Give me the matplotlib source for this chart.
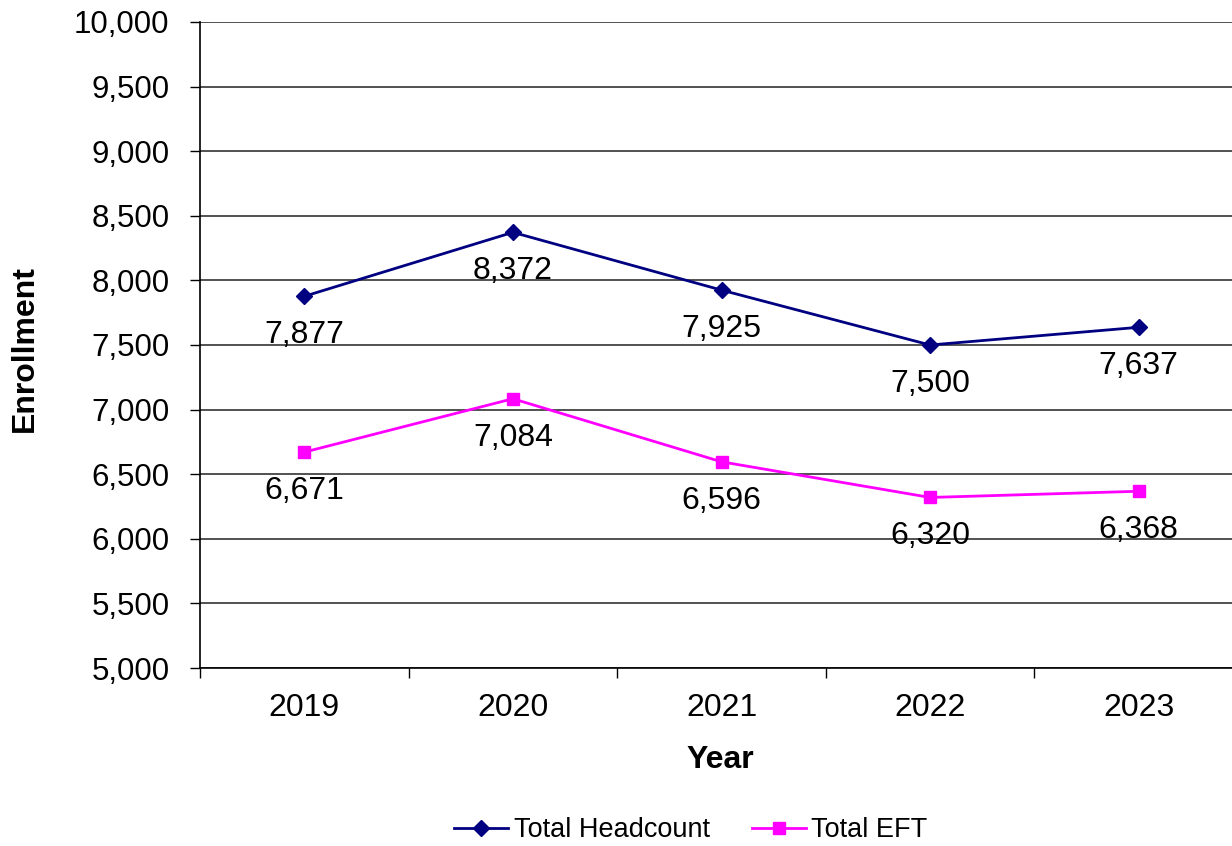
import matplotlib
matplotlib.use("Agg")
import matplotlib.pyplot as plt
from matplotlib.ticker import FuncFormatter, FixedLocator

years = ["2019", "2020", "2021", "2022", "2023"]
headcount = [7877, 8372, 7925, 7500, 7637]
eft = [6671, 7084, 6596, 6320, 6368]
y_ticks = list(range(5000, 10001, 500))

plt.rcParams['font.family'] = ['Liberation Sans', 'DejaVu Sans']

fig = plt.figure(figsize=(12.32, 8.46), dpi=100)
ax = fig.add_axes([200/1232, 1-668/846, 1043/1232, 646/846])

x = list(range(len(years)))
l1, = ax.plot(x, headcount, color='#000080', lw=2, marker='D', markersize=8.5,
              label='Total Headcount', clip_on=False, zorder=3)
l2, = ax.plot(x, eft, color='#FF00FF', lw=2, marker='s', markersize=9,
              label='Total EFT', clip_on=False, zorder=3)

for xi, v in zip(x, headcount):
    ax.annotate(f"{v:,}", (xi, v), xytext=(0, -28), textcoords='offset points',
                ha='center', va='center', fontsize=23)
for xi, v in zip(x, eft):
    ax.annotate(f"{v:,}", (xi, v), xytext=(0, -28), textcoords='offset points',
                ha='center', va='center', fontsize=23)

ax.set_xlim(-0.5, len(years) - 0.5)
ax.set_ylim(5000, 10000)
ax.set_yticks(y_ticks)
ax.yaxis.set_major_formatter(FuncFormatter(lambda v, p: f"{int(v):,}"))
ax.set_xticks(x)
ax.set_xticklabels(years)
ax.xaxis.set_minor_locator(FixedLocator([i - 0.5 for i in range(len(years) + 1)]))
ax.tick_params(axis='x', which='major', length=0, pad=18, labelsize=23)
ax.tick_params(axis='x', which='minor', length=7, width=1, direction='out')
ax.tick_params(axis='y', length=7, width=1, pad=15, labelsize=22.5)

ax.grid(axis='y', color='#333333', lw=1.2)
ax.set_axisbelow(True)
for s in ['top', 'right']:
    ax.spines[s].set_visible(False)
for s in ['left', 'bottom']:
    ax.spines[s].set_color('black')
    ax.spines[s].set_linewidth(1.2)

fig.text(720/1232, 1-760/846, "Year", ha='center', va='center', fontsize=23, fontweight='bold')
fig.text(25/1232, 1-349/846, "Enrollment", ha='center', va='center', fontsize=23,
         fontweight='bold', rotation=90)

fig.legend(handles=[l1, l2], loc='center', bbox_to_anchor=(691/1232, 1-830/846),
           ncol=2, frameon=False, fontsize=19.5, handlelength=2.0, handletextpad=0.2,
           columnspacing=1.55, markerscale=0.9)

fig.savefig("out.png", dpi=100)
